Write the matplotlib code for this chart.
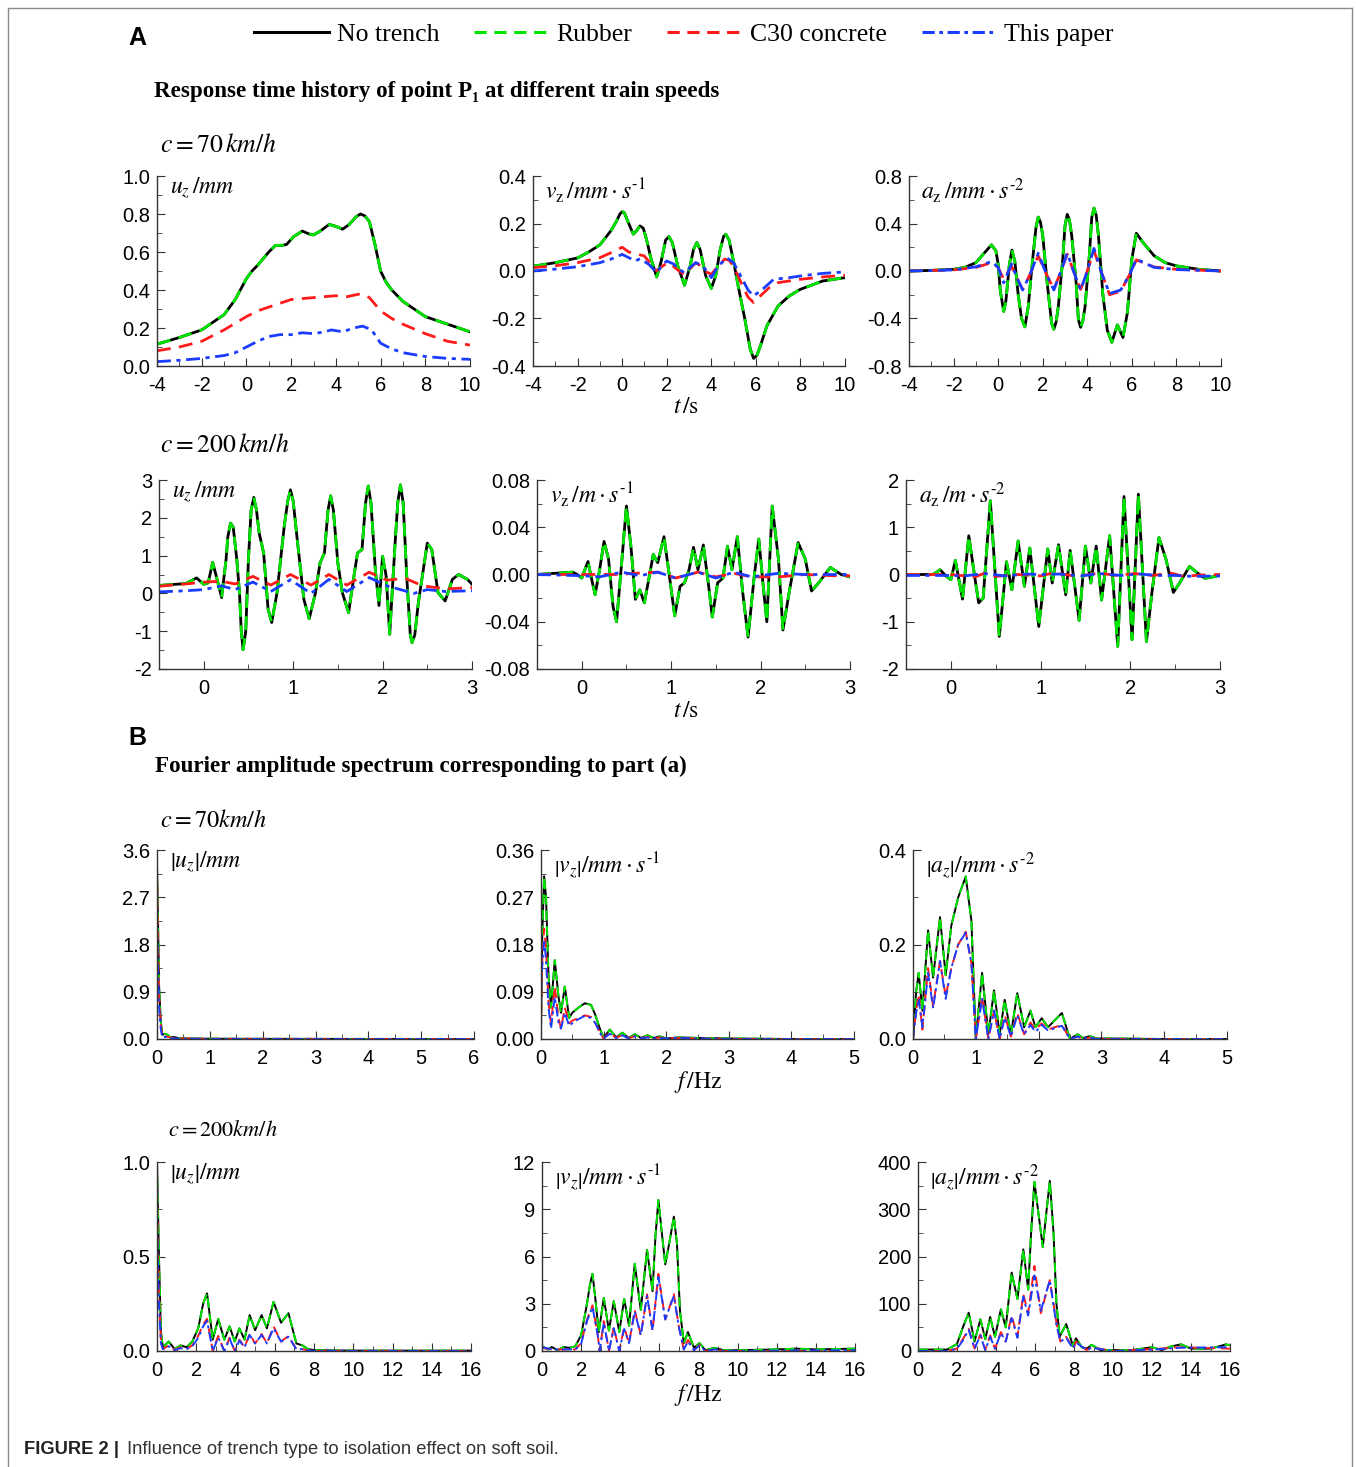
import numpy as np
import matplotlib
matplotlib.use("Agg")
import matplotlib.pyplot as plt
from matplotlib.lines import Line2D
from matplotlib.ticker import MultipleLocator, FormatStrFormatter

plt.rcParams['font.family'] = ['Liberation Sans', 'DejaVu Sans']
plt.rcParams['mathtext.fontset'] = 'stix'
plt.rcParams['axes.unicode_minus'] = False

# ---------------- data ----------------
# A, c = 70 km/h, displacement u_z (mm)
a1_t_nt = [-4, -3, -2, -1.5, -1, -0.5, 0, 0.25, 0.5, 1, 1.3, 1.6, 1.8, 2.1, 2.5, 2.8, 3.0, 3.3, 3.7, 4.0,
           4.3, 4.6, 4.9, 5.1, 5.3, 5.5, 5.75, 6, 6.25, 6.5, 7, 7.5, 8, 9, 10]
a1_nt = [0.115, 0.15, 0.19, 0.23, 0.27, 0.35, 0.46, 0.50, 0.53, 0.60, 0.635, 0.635, 0.64, 0.68, 0.71, 0.695, 0.69,
         0.71, 0.745, 0.735, 0.72, 0.745, 0.785, 0.80, 0.79, 0.76, 0.64, 0.50, 0.44, 0.40, 0.34, 0.30, 0.26, 0.22, 0.18]
a1_t_c30 = [-4, -3, -2, -1, 0, 0.5, 1, 1.5, 2, 2.5, 3, 3.5, 4, 4.5, 5.1, 5.5, 6, 6.5, 7, 8, 9, 10]
a1_c30 = [0.08, 0.10, 0.13, 0.19, 0.26, 0.29, 0.31, 0.33, 0.35, 0.355, 0.36, 0.365, 0.37, 0.365, 0.38, 0.36, 0.29,
          0.25, 0.22, 0.17, 0.13, 0.11]
a1_t_tp = [-4, -3, -2, -1, -0.5, 0, 0.5, 1, 1.5, 2, 2.5, 3, 3.5, 3.8, 4.3, 4.8, 5.2, 5.6, 6, 6.5, 7, 8, 9, 10]
a1_tp = [0.023, 0.03, 0.04, 0.055, 0.07, 0.10, 0.13, 0.155, 0.165, 0.165, 0.175, 0.17, 0.18, 0.19, 0.18, 0.2, 0.21,
         0.19, 0.12, 0.09, 0.07, 0.05, 0.04, 0.035]

# A, c = 70 km/h, velocity v_z (mm/s)
a2_t_nt = [-4, -3, -2, -1.5, -1, -0.5, -0.25, -0.1, 0, 0.1, 0.25, 0.5, 0.65, 0.8, 0.95, 1.1, 1.3, 1.55, 1.75, 1.95,
           2.1, 2.25, 2.5, 2.8, 3.05, 3.2, 3.35, 3.5, 3.75, 4.0, 4.2, 4.4, 4.55, 4.65, 4.8, 5.0, 5.2, 5.5, 5.75, 5.9,
           6.05, 6.2, 6.5, 7, 7.5, 8, 9, 10]
a2_nt = [0.02, 0.035, 0.055, 0.08, 0.11, 0.17, 0.21, 0.24, 0.25, 0.245, 0.21, 0.155, 0.17, 0.19, 0.18, 0.13, 0.05,
         -0.025, 0.04, 0.13, 0.145, 0.12, 0.02, -0.06, 0.02, 0.09, 0.12, 0.09, -0.02, -0.073, -0.02, 0.09, 0.145,
         0.155, 0.13, 0.04, -0.06, -0.2, -0.33, -0.368, -0.355, -0.316, -0.23, -0.147, -0.105, -0.077, -0.042, -0.028]
a2_t_c30 = [-4, -3, -2, -1, -0.5, 0, 0.3, 0.6, 1.0, 1.3, 1.55, 1.8, 2.05, 2.3, 2.55, 2.8, 3.05, 3.3, 3.55, 3.8,
            4.0, 4.3, 4.6, 4.8, 5.0, 5.2, 5.4, 5.65, 5.9, 6.2, 6.6, 7, 8, 9, 10]
a2_c30 = [0.014, 0.022, 0.035, 0.056, 0.077, 0.10, 0.08, 0.073, 0.063, 0.028, 0.0, 0.02, 0.035, 0.02, 0.0, -0.014,
          0.01, 0.035, 0.02, -0.005, -0.014, 0.02, 0.05, 0.045, 0.02, -0.02, -0.063, -0.11, -0.133, -0.105, -0.07,
          -0.049, -0.035, -0.025, -0.018]
a2_t_tp = [-4, -3, -2, -1, -0.5, 0, 0.3, 0.6, 0.8, 1.2, 1.55, 1.8, 2.0, 2.3, 2.55, 2.8, 3.05, 3.3, 3.55, 3.8,
           4.0, 4.3, 4.7, 5.0, 5.2, 5.4, 5.65, 5.9, 6.3, 6.8, 7.5, 8, 9, 10]
a2_tp = [0.0, 0.008, 0.018, 0.035, 0.05, 0.07, 0.056, 0.042, 0.052, 0.028, -0.007, 0.025, 0.042, 0.03, 0.007,
         -0.007, 0.015, 0.035, 0.025, 0.0, -0.028, 0.02, 0.055, 0.035, 0.0, -0.035, -0.08, -0.105, -0.077, -0.035,
         -0.028, -0.021, -0.01, -0.004]

# A, c = 70 km/h, acceleration a_z (mm/s2)
a3_t_nt = [-4, -3, -2, -1.5, -1, -0.6, -0.3, -0.1, 0.0, 0.1, 0.25, 0.35, 0.5, 0.62, 0.75, 0.9, 1.05, 1.2, 1.35,
           1.55, 1.7, 1.8, 1.9, 2.0, 2.2, 2.4, 2.5, 2.6, 2.7, 2.9, 3.0, 3.1, 3.2, 3.3, 3.5, 3.6, 3.7, 3.8, 3.9, 4.1,
           4.2, 4.3, 4.4, 4.5, 4.7, 4.9, 5.1, 5.35, 5.6, 5.8, 6.0, 6.2, 6.5, 7, 7.5, 8, 9, 10]
a3_nt = [0.0, 0.005, 0.014, 0.03, 0.07, 0.156, 0.22, 0.17, 0.057, -0.17, -0.34, -0.25, 0.05, 0.176, 0.08, -0.2,
         -0.4, -0.47, -0.3, 0.1, 0.37, 0.454, 0.41, 0.3, -0.1, -0.44, -0.49, -0.43, -0.3, 0.1, 0.38, 0.477, 0.43,
         0.3, -0.1, -0.41, -0.474, -0.42, -0.3, 0.15, 0.45, 0.53, 0.47, 0.3, -0.2, -0.5, -0.6, -0.454, -0.56, -0.35,
         0.1, 0.318, 0.24, 0.128, 0.07, 0.043, 0.014, 0.0]
a3_t_c30 = [-4, -2, -1, -0.3, 0, 0.25, 0.6, 0.85, 1.1, 1.45, 1.8, 2.15, 2.5, 2.8, 3.1, 3.4, 3.7, 4.0, 4.3, 4.65,
            5.0, 5.5, 5.9, 6.2, 7, 8, 10]
a3_c30 = [0.0, 0.009, 0.03, 0.07, 0.03, -0.07, 0.04, -0.06, -0.155, -0.02, 0.128, -0.02, -0.155, -0.01, 0.142,
          -0.01, -0.155, 0.0, 0.17, -0.02, -0.2, -0.17, -0.03, 0.094, 0.034, 0.014, 0.0]
a3_t_tp = a3_t_c30
a3_tp = [0.0, 0.009, 0.035, 0.08, 0.03, -0.10, 0.06, -0.06, -0.16, -0.02, 0.15, -0.02, -0.16, -0.01, 0.15, -0.01,
         -0.16, 0.0, 0.19, -0.02, -0.19, -0.16, -0.03, 0.10, 0.03, 0.012, 0.0]

# A, c = 200 km/h, u_z (mm)
a4_t_nt = [-0.5, -0.2, -0.08, 0.0, 0.05, 0.1, 0.15, 0.2, 0.25, 0.27, 0.3, 0.33, 0.37, 0.4, 0.42, 0.44, 0.47, 0.5,
           0.53, 0.56, 0.59, 0.62, 0.67, 0.72, 0.76, 0.82, 0.9, 0.94, 0.97, 1.0, 1.05, 1.12, 1.18, 1.25, 1.3, 1.35,
           1.39, 1.42, 1.45, 1.5, 1.55, 1.62, 1.68, 1.72, 1.77, 1.81, 1.84, 1.87, 1.92, 1.96, 2.0, 2.04, 2.08, 2.14,
           2.17, 2.2, 2.23, 2.27, 2.31, 2.33, 2.36, 2.4, 2.5, 2.55, 2.62, 2.7, 2.78, 2.85, 2.95, 3.0]
a4_nt = [0.21, 0.26, 0.41, 0.24, 0.28, 0.82, 0.37, -0.11, 0.9, 1.5, 1.86, 1.75, 0.9, 0.02, -1.0, -1.49, -1.0, 0.9,
         2.2, 2.54, 2.2, 1.6, 1.07, -0.42, -0.77, 0.02, 1.77, 2.45, 2.74, 2.45, 1.33, -0.16, -0.67, 0.02, 0.8, 1.07,
         2.2, 2.58, 2.2, 0.8, 0.02, -0.51, 0.46, 1.07, 1.16, 2.4, 2.84, 2.4, 0.6, -0.32, 0.98, 0.46, -1.08, 1.33,
         2.4, 2.87, 2.4, 0.46, -1.1, -1.3, -1.1, -0.25, 1.33, 1.16, 0.02, -0.2, 0.37, 0.5, 0.37, 0.24]
a4_t_c30 = [-0.5, -0.2, 0.0, 0.2, 0.35, 0.55, 0.75, 0.97, 1.2, 1.4, 1.6, 1.85, 2.05, 2.25, 2.45, 2.7, 3.0]
a4_c30 = [0.19, 0.25, 0.30, 0.32, 0.25, 0.45, 0.22, 0.5, 0.22, 0.5, 0.22, 0.56, 0.35, 0.4, 0.2, 0.12, 0.15]
a4_t_tp = [-0.5, -0.2, 0.0, 0.2, 0.35, 0.55, 0.75, 0.97, 1.2, 1.4, 1.6, 1.85, 2.05, 2.35, 2.5, 2.7, 3.0]
a4_tp = [0.04, 0.07, 0.1, 0.2, 0.1, 0.3, 0.05, 0.36, 0.0, 0.37, 0.05, 0.42, 0.2, 0.0, 0.1, 0.05, 0.07]

# A, c = 200 km/h, v_z (m/s)
a5_t_nt = [-0.5, -0.1, -0.05, 0.0, 0.07, 0.12, 0.15, 0.2, 0.25, 0.3, 0.35, 0.39, 0.45, 0.5, 0.55, 0.6, 0.65, 0.7,
           0.75, 0.8, 0.85, 0.92, 0.98, 1.04, 1.1, 1.15, 1.2, 1.25, 1.3, 1.36, 1.42, 1.46, 1.52, 1.58, 1.63, 1.68,
           1.74, 1.8, 1.86, 1.93, 1.98, 2.03, 2.07, 2.13, 2.2, 2.25, 2.32, 2.42, 2.5, 2.57, 2.65, 2.78, 2.9, 3.0]
a5_nt = [0.0, 0.002, 0.0, -0.003, 0.011, -0.007, -0.017, 0.004, 0.028, 0.013, -0.027, -0.04, 0.013, 0.058, 0.024,
         -0.021, -0.013, -0.024, -0.004, 0.017, 0.01, 0.032, -0.001, -0.035, -0.01, -0.007, 0.004, 0.023, 0.004,
         0.025, -0.01, -0.036, -0.007, -0.003, 0.024, 0.004, 0.032, -0.015, -0.053, -0.001, 0.03, -0.01, -0.04,
         0.058, 0.013, -0.047, -0.015, 0.027, 0.013, -0.014, -0.007, 0.006, 0.0, -0.002]
a5_t_c30 = [-0.5, 0.0, 0.4, 0.6, 0.85, 1.05, 1.3, 1.5, 1.7, 1.9, 2.2, 2.5, 2.8, 3.0]
a5_c30 = [0.0, 0.0, 0.0, 0.001, 0.002, -0.003, 0.002, -0.002, 0.001, -0.002, -0.002, 0.0, -0.001, -0.001]
a5_t_tp = [-0.5, 0.0, 0.2, 0.45, 0.65, 0.85, 1.05, 1.3, 1.5, 1.7, 1.9, 2.2, 2.5, 2.8, 3.0]
a5_tp = [0.0, -0.001, -0.002, 0.002, -0.001, 0.002, -0.003, 0.002, -0.003, 0.002, -0.002, 0.001, 0.0, 0.0, 0.0]

# A, c = 200 km/h, a_z (m/s2)
a6_t_nt = [-0.5, -0.2, -0.12, -0.05, 0.0, 0.05, 0.13, 0.2, 0.27, 0.31, 0.36, 0.44, 0.54, 0.62, 0.68, 0.75, 0.82,
           0.88, 0.98, 1.08, 1.13, 1.2, 1.28, 1.33, 1.43, 1.5, 1.56, 1.62, 1.68, 1.77, 1.86, 1.93, 2.02, 2.09, 2.18,
           2.24, 2.32, 2.4, 2.48, 2.55, 2.66, 2.75, 2.83, 2.95, 3.0]
a6_nt = [0.0, 0.0, 0.1, -0.04, -0.11, 0.3, -0.52, 0.82, -0.1, -0.6, -0.5, 1.56, -1.31, 0.27, -0.32, 0.71, -0.25,
         0.56, -1.1, 0.54, -0.18, 0.63, -0.43, 0.51, -0.97, 0.6, -0.18, 0.6, -0.54, 0.82, -1.52, 1.65, -1.38, 1.7,
         -1.42, -0.4, 0.78, 0.31, -0.38, -0.18, 0.17, 0.03, -0.08, -0.04, 0.0]
a6_t_c30 = [-0.5, 0.0, 0.27, 0.38, 0.5, 0.75, 1.0, 1.15, 1.4, 1.65, 1.85, 2.05, 2.25, 2.45, 2.6, 2.8, 3.0]
a6_c30 = [0.0, 0.0, -0.05, 0.03, -0.04, 0.0, -0.03, 0.04, -0.04, 0.03, -0.02, 0.02, -0.02, 0.03, -0.04, -0.01, 0.0]
a6_t_tp = [-0.5, 0.0, 0.15, 0.38, 0.6, 0.85, 1.0, 1.2, 1.45, 1.65, 1.9, 2.1, 2.3, 2.5, 2.7, 3.0]
a6_tp = [-0.02, -0.02, -0.03, 0.02, -0.03, 0.01, 0.0, 0.01, -0.03, 0.02, -0.02, 0.01, -0.02, -0.02, -0.04, -0.03]

# B, c = 70 km/h, |u_z|
b1_f_nt = [0, 0.02, 0.04, 0.07, 0.1, 0.15, 0.2, 0.25, 0.3, 0.4, 0.5, 1, 2, 3, 4, 5, 6]
b1_nt = [3.3, 2.2, 1.0, 0.35, 0.08, 0.1, 0.08, 0.03, 0.04, 0.02, 0.01, 0.005, 0.003, 0.002, 0.001, 0.001, 0.0]
b1_f_c30 = [0, 0.02, 0.04, 0.07, 0.1, 0.15, 0.2, 0.3, 0.5, 1, 6]
b1_c30 = [3.25, 1.8, 0.8, 0.3, 0.05, 0.06, 0.04, 0.02, 0.01, 0.003, 0.0]
b1_f_tp = b1_f_c30
b1_tp = [2.2, 1.3, 0.6, 0.2, 0.03, 0.04, 0.03, 0.01, 0.005, 0.002, 0.0]

# B, c = 70 km/h, |v_z|
b2_f = [0, 0.02, 0.05, 0.08, 0.12, 0.16, 0.22, 0.28, 0.32, 0.38, 0.45, 0.5, 0.6, 0.7, 0.8, 0.87, 0.94, 1.0, 1.1,
        1.2, 1.3, 1.4, 1.5, 1.6, 1.7, 1.8, 1.9, 2.0, 2.2, 2.5, 3, 4, 5]
b2_nt = [0.02, 0.2, 0.31, 0.27, 0.12, 0.06, 0.15, 0.08, 0.05, 0.10, 0.04, 0.05, 0.06, 0.068, 0.065, 0.045, 0.02,
         0.002, 0.018, 0.003, 0.012, 0.002, 0.009, 0.002, 0.007, 0.002, 0.005, 0.001, 0.003, 0.002, 0.001, 0.0, 0.0]
b2_c30 = [0.02, 0.15, 0.21, 0.17, 0.07, 0.03, 0.10, 0.04, 0.02, 0.06, 0.03, 0.035, 0.04, 0.045, 0.042, 0.03, 0.012,
          0.001, 0.012, 0.002, 0.008, 0.001, 0.006, 0.001, 0.004, 0.001, 0.003, 0.001, 0.002, 0.001, 0.0, 0.0, 0.0]
b2_tp = [0.09, 0.14, 0.19, 0.15, 0.06, 0.02, 0.08, 0.03, 0.02, 0.05, 0.025, 0.03, 0.038, 0.044, 0.04, 0.03, 0.012,
         0.001, 0.01, 0.002, 0.007, 0.001, 0.005, 0.001, 0.003, 0.001, 0.002, 0.001, 0.002, 0.001, 0.0, 0.0, 0.0]

# B, c = 70 km/h, |a_z|
b3_f = [0, 0.05, 0.09, 0.15, 0.24, 0.32, 0.43, 0.52, 0.61, 0.72, 0.84, 0.93, 1.0, 1.1, 1.2, 1.29, 1.38, 1.46, 1.56,
        1.66, 1.77, 1.87, 1.95, 2.05, 2.15, 2.37, 2.5, 2.62, 2.71, 2.81, 2.93, 3.2, 4, 5]
b3_nt = [0.0, 0.10, 0.14, 0.06, 0.23, 0.13, 0.258, 0.135, 0.24, 0.30, 0.344, 0.25, 0.0, 0.14, 0.01, 0.103, 0.01,
         0.083, 0.01, 0.097, 0.025, 0.06, 0.025, 0.044, 0.025, 0.055, 0.0, 0.01, 0.002, 0.006, 0.001, 0.001, 0.0, 0.0]
b3_c30 = [0.0, 0.06, 0.094, 0.02, 0.15, 0.07, 0.165, 0.09, 0.15, 0.2, 0.227, 0.16, 0.0, 0.09, 0.0, 0.06, 0.0, 0.05,
          0.005, 0.055, 0.01, 0.035, 0.02, 0.033, 0.02, 0.03, 0.0, 0.005, 0.001, 0.003, 0.0, 0.0, 0.0, 0.0]
b3_tp = [0.0, 0.055, 0.085, 0.025, 0.14, 0.065, 0.165, 0.085, 0.15, 0.2, 0.225, 0.16, 0.0, 0.085, 0.0, 0.06, 0.0,
         0.045, 0.005, 0.05, 0.01, 0.03, 0.015, 0.03, 0.018, 0.028, 0.0, 0.005, 0.001, 0.003, 0.0, 0.0, 0.0, 0.0]

# B, c = 200 km/h, |u_z|
b4_f_nt = [0, 0.1, 0.2, 0.3, 0.6, 0.9, 1.2, 1.5, 1.8, 2.1, 2.35, 2.55, 2.84, 3.12, 3.43, 3.7, 3.96, 4.2, 4.46, 4.72,
           5.0, 5.33, 5.6, 5.94, 6.32, 6.7, 7.1, 7.4, 7.7, 8.0, 9, 10, 12, 14, 16]
b4_nt = [1.0, 0.5, 0.1, 0.02, 0.05, 0.01, 0.03, 0.02, 0.05, 0.12, 0.25, 0.305, 0.06, 0.17, 0.06, 0.13, 0.05, 0.12,
         0.06, 0.19, 0.11, 0.19, 0.12, 0.26, 0.15, 0.20, 0.04, 0.03, 0.01, 0.005, 0.003, 0.002, 0.002, 0.002, 0.002]
b4_f = [0, 0.05, 0.1, 0.2, 0.3, 0.6, 0.9, 1.2, 1.5, 1.8, 2.1, 2.35, 2.55, 2.84, 3.12, 3.43, 3.7, 3.96, 4.2, 4.46,
        4.72, 5.0, 5.33, 5.6, 5.94, 6.32, 6.7, 7.1, 7.4, 7.7, 8.0, 9, 16]
b4_c30 = [0.85, 0.5, 0.3, 0.05, 0.01, 0.03, 0.005, 0.02, 0.01, 0.03, 0.08, 0.14, 0.17, 0.0, 0.08, 0.0, 0.07, 0.0,
          0.06, 0.02, 0.09, 0.04, 0.09, 0.04, 0.13, 0.05, 0.08, 0.01, 0.01, 0.003, 0.001, 0.001, 0.0]
b4_tp = [0.7, 0.45, 0.25, 0.04, 0.01, 0.025, 0.005, 0.015, 0.01, 0.025, 0.07, 0.13, 0.16, 0.0, 0.07, 0.0, 0.065,
         0.0, 0.055, 0.02, 0.085, 0.04, 0.085, 0.04, 0.12, 0.05, 0.075, 0.01, 0.01, 0.003, 0.001, 0.001, 0.0]

# B, c = 200 km/h, |v_z|
b5_f_nt = [0, 0.3, 0.5, 0.8, 1.1, 1.4, 1.7, 2.0, 2.3, 2.45, 2.58, 2.72, 2.9, 3.16, 3.42, 3.67, 3.95, 4.2, 4.45,
           4.74, 5.05, 5.37, 5.65, 5.8, 5.95, 6.1, 6.3, 6.5, 6.74, 6.9, 7.05, 7.25, 7.46, 7.77, 8.05, 8.35, 8.8, 9.3,
           10, 12, 13, 14, 16]
b5_nt = [0.3, 0.1, 0.25, 0.05, 0.25, 0.2, 0.3, 1.0, 3.0, 4.2, 4.9, 3.4, 1.2, 3.37, 1.3, 3.16, 1.2, 3.3, 1.6, 5.54,
         2.6, 6.42, 3.8, 7.3, 9.58, 7.8, 5.5, 6.8, 8.53, 6.8, 2.6, 0.5, 1.2, 0.2, 0.5, 0.05, 0.2, 0.05, 0.05, 0.1,
         0.15, 0.1, 0.15]
b5_f = [0, 0.5, 1.0, 1.7, 2.0, 2.3, 2.58, 2.85, 2.95, 3.16, 3.42, 3.67, 3.95, 4.2, 4.45, 4.74, 5.05, 5.37, 5.65,
        5.95, 6.3, 6.74, 7.0, 7.25, 7.46, 7.77, 8.05, 8.35, 8.8, 9.3, 16]
b5_c30 = [0.2, 0.1, 0.1, 0.1, 0.5, 2.0, 2.9, 1.0, 0.0, 1.9, 0.0, 1.5, 0.0, 1.5, 0.5, 2.6, 1.0, 3.6, 1.3, 4.9, 2.0,
          3.6, 1.5, 0.1, 0.7, 0.05, 0.4, 0.0, 0.1, 0.0, 0.0]
b5_tp = [0.25, 0.1, 0.1, 0.1, 0.45, 1.9, 2.8, 1.0, 0.0, 1.8, 0.0, 1.45, 0.0, 1.4, 0.5, 2.5, 1.0, 3.5, 1.3, 4.7, 2.0,
         3.5, 1.5, 0.1, 0.6, 0.05, 0.35, 0.0, 0.1, 0.0, 0.05]

# B, c = 200 km/h, |a_z|
b6_f_nt = [0, 1.5, 2.0, 2.3, 2.6, 2.9, 3.2, 3.45, 3.7, 3.95, 4.25, 4.5, 4.8, 5.1, 5.4, 5.65, 5.8, 5.97, 6.15, 6.4,
           6.6, 6.76, 6.95, 7.1, 7.26, 7.6, 7.95, 8.1, 8.4, 8.65, 8.9, 9.35, 10, 11, 12, 12.5, 13, 13.5, 14, 15,
           15.8, 16]
b6_nt = [3, 3, 15, 50, 81, 20, 67, 25, 72, 30, 88, 50, 166, 110, 215, 130, 250, 358, 300, 220, 300, 360, 250, 100,
         30, 57, 10, 27, 8, 5, 13, 2, 2, 2, 8, 2, 10, 14, 5, 5, 14, 12]
b6_f = [0, 1.5, 2.0, 2.3, 2.6, 2.9, 3.2, 3.45, 3.7, 3.95, 4.25, 4.5, 4.8, 5.1, 5.4, 5.65, 5.97, 6.3, 6.76, 7.1, 7.3,
        7.6, 7.95, 8.1, 8.65, 8.9, 10, 12, 13.5, 16]
b6_c30 = [0, 0, 5, 25, 47, 5, 35, 2, 33, 5, 40, 20, 75, 30, 120, 80, 180, 80, 150, 60, 20, 30, 5, 20, 2, 8, 0, 4, 8,
          5]
b6_tp = [0, 0, 5, 22, 45, 5, 33, 2, 30, 5, 38, 20, 70, 28, 115, 75, 160, 85, 150, 55, 20, 28, 5, 18, 2, 7, 0, 3, 7,
         8]

legend_labels = ['No trench', 'Rubber', 'C30 concrete', 'This paper']

# ---------------- figure ----------------
W, H = 1356, 1467
fig = plt.figure(figsize=(W / 100, H / 100), dpi=100)
fig.patch.set_facecolor('white')


def px_axes(x0, x1, ytop, ybot):
    return fig.add_axes([x0 / W, 1 - ybot / H, (x1 - x0) / W, (ybot - ytop) / H])


def ftext(x, y, s, **kw):
    fig.text(x / W, 1 - y / H, s, **kw)


GREEN = '#00e400'
RED = '#ff1a1a'
BLUE = '#1a3cff'
HY = '\u2010'  # short hyphen used in the superscripts


def draw(ax, series, lw):
    (xn, yn), (xr, yr), (xc, yc), (xp, yp) = series
    ax.plot(xn, yn, color='black', lw=lw, solid_joinstyle='round')
    ax.plot(xr, yr, color=GREEN, lw=lw, ls=(0, (5, 3)))
    ax.plot(xc, yc, color=RED, lw=lw, ls=(0, (5, 3)))
    ax.plot(xp, yp, color=BLUE, lw=lw, ls=(0, (5, 2, 1.5, 2)))


def style(ax, xlim, xmaj, ylim, ymaj, yfmt, label):
    ax.set_xlim(*xlim)
    ax.set_ylim(*ylim)
    for s in ['top', 'right']:
        ax.spines[s].set_visible(False)
    for s in ['left', 'bottom']:
        ax.spines[s].set_linewidth(1.0)
        ax.spines[s].set_color('#333333')
    ax.xaxis.set_major_locator(MultipleLocator(xmaj))
    ax.xaxis.set_minor_locator(MultipleLocator(xmaj / 2))
    ax.yaxis.set_major_locator(MultipleLocator(ymaj))
    ax.yaxis.set_minor_locator(MultipleLocator(ymaj / 2))
    ax.xaxis.set_major_formatter(FormatStrFormatter('%g'))
    ax.yaxis.set_major_formatter(FormatStrFormatter(yfmt))
    ax.tick_params(which='both', direction='in', labelsize=14.5, color='#333333')
    ax.tick_params(axis='x', pad=7)
    ax.tick_params(axis='y', pad=5)
    ax.tick_params(which='major', length=6)
    ax.tick_params(which='minor', length=3.5)
    ax.text(0.04, 1.0, label, transform=ax.transAxes, ha='left', va='top', fontsize=17)


panels = [
    # (box px, data, xlim, xmaj, ylim, ymaj, fmt, label, lw)
    ((157, 470, 176, 366), [(a1_t_nt, a1_nt), (a1_t_nt, a1_nt), (a1_t_c30, a1_c30), (a1_t_tp, a1_tp)],
     (-4, 10), 2, (0, 1.0), 0.2, '%.1f', r'$u_z\,/mm$', 2.0),
    ((533, 845, 176, 366), [(a2_t_nt, a2_nt), (a2_t_nt, a2_nt), (a2_t_c30, a2_c30), (a2_t_tp, a2_tp)],
     (-4, 10), 2, (-0.4, 0.4), 0.2, '%.1f', r'$v_{\mathrm{z}}\,/mm\cdot s^{' + HY + '1}$', 2.0),
    ((909, 1221, 176, 366), [(a3_t_nt, a3_nt), (a3_t_nt, a3_nt), (a3_t_c30, a3_c30), (a3_t_tp, a3_tp)],
     (-4, 10), 2, (-0.8, 0.8), 0.4, '%.1f', r'$a_{\mathrm{z}}\,/mm\cdot s^{' + HY + '2}$', 2.0),
    ((159, 472, 480, 669), [(a4_t_nt, a4_nt), (a4_t_nt, a4_nt), (a4_t_c30, a4_c30), (a4_t_tp, a4_tp)],
     (-0.5, 3), 1, (-2, 3), 1, '%d', r'$u_z\,/mm$', 2.0),
    ((537, 850, 480, 669), [(a5_t_nt, a5_nt), (a5_t_nt, a5_nt), (a5_t_c30, a5_c30), (a5_t_tp, a5_tp)],
     (-0.5, 3), 1, (-0.08, 0.08), 0.04, '%.2f', r'$v_{\mathrm{z}}\,/m\cdot s^{' + HY + '1}$', 2.0),
    ((906, 1220, 480, 669), [(a6_t_nt, a6_nt), (a6_t_nt, a6_nt), (a6_t_c30, a6_c30), (a6_t_tp, a6_tp)],
     (-0.5, 3), 1, (-2, 2), 1, '%d', r'$a_{\mathrm{z}}\,/m\cdot s^{' + HY + '2}$', 2.0),
    ((157, 474, 850, 1039), [(b1_f_nt, b1_nt), (b1_f_nt, b1_nt), (b1_f_c30, b1_c30), (b1_f_tp, b1_tp)],
     (0, 6), 1, (0, 3.6), 0.9, '%.1f', r'$\left|u_z\right|/mm$', 1.4),
    ((541, 854, 850, 1039), [(b2_f, b2_nt), (b2_f, b2_nt), (b2_f, b2_c30), (b2_f, b2_tp)],
     (0, 5), 1, (0, 0.36), 0.09, '%.2f', r'$\left|v_z\right|/mm\cdot s^{' + HY + '1}$', 1.4),
    ((913, 1227, 850, 1039), [(b3_f, b3_nt), (b3_f, b3_nt), (b3_f, b3_c30), (b3_f, b3_tp)],
     (0, 5), 1, (0, 0.4), 0.2, '%.1f', r'$\left|a_z\right|/mm\cdot s^{' + HY + '2}$', 1.4),
    ((157, 471, 1162, 1351), [(b4_f_nt, b4_nt), (b4_f_nt, b4_nt), (b4_f, b4_c30), (b4_f, b4_tp)],
     (0, 16), 2, (0, 1.0), 0.5, '%.1f', r'$\left|u_z\right|/mm$', 1.4),
    ((542, 855, 1162, 1351), [(b5_f_nt, b5_nt), (b5_f_nt, b5_nt), (b5_f, b5_c30), (b5_f, b5_tp)],
     (0, 16), 2, (0, 12), 3, '%d', r'$\left|v_z\right|/mm\cdot s^{' + HY + '1}$', 1.4),
    ((918, 1230, 1162, 1351), [(b6_f_nt, b6_nt), (b6_f_nt, b6_nt), (b6_f, b6_c30), (b6_f, b6_tp)],
     (0, 16), 2, (0, 400), 100, '%d', r'$\left|a_z\right|/mm\cdot s^{' + HY + '2}$', 1.4),
]

for box, data, xlim, xmaj, ylim, ymaj, fmt, label, lw in panels:
    ax = px_axes(*box)
    draw(ax, data, lw)
    style(ax, xlim, xmaj, ylim, ymaj, fmt, label)

# legend on top
handles = [Line2D([], [], color='black', lw=2.2),
           Line2D([], [], color=GREEN, lw=2.2, ls=(0, (4, 2.5))),
           Line2D([], [], color=RED, lw=2.2, ls=(0, (4, 2.5))),
           Line2D([], [], color=BLUE, lw=2.2, ls=(0, (4, 1.5, 1.2, 1.5)))]
fig.legend(handles, legend_labels, loc='center', bbox_to_anchor=(684 / W, 1 - 35 / H), ncol=4,
           frameon=False, handlelength=2.9, handletextpad=0.31, columnspacing=1.36,
           prop={'family': 'Liberation Serif', 'size': 18.5})

serif = {'family': 'Liberation Serif'}
ftext(137, 38, 'A', fontsize=18, fontweight='bold', ha='center', va='center')
ftext(154, 92, 'Response time history of point P\u2081 at different train speeds', fontsize=16.6,
      fontweight='bold', va='center', family=['Liberation Serif', 'DejaVu Serif'])
ftext(160, 145, r'$c = 70\,km/h$', fontsize=18.5, va='center')
ftext(686, 407, r'$t\,/\mathrm{s}$', fontsize=17, ha='center', va='center')
ftext(160, 445, r'$c = 200\,km/h$', fontsize=18.5, va='center')
ftext(686, 711, r'$t\,/\mathrm{s}$', fontsize=17, ha='center', va='center')
ftext(137, 738, 'B', fontsize=18, fontweight='bold', ha='center', va='center')
ftext(155, 766, 'Fourier amplitude spectrum corresponding to part (a)', fontsize=16.6, fontweight='bold',
      va='center', **serif)
ftext(160, 821, r'$c = 70km/h$', fontsize=17.5, va='center')
ftext(698, 1082, r'$f\,/\mathrm{Hz}$', fontsize=17, ha='center', va='center')
ftext(168, 1130, r'$c = 200km/h$', fontsize=16, va='center')
ftext(698, 1395, r'$f\,/\mathrm{Hz}$', fontsize=17, ha='center', va='center')

ftext(24, 1450, 'FIGURE 2 |', fontsize=13.2, fontweight='bold', va='center', color='#222222')
ftext(127, 1450, 'Influence of trench type to isolation effect on soft soil.', fontsize=13.2, va='center',
      color='#333333')

# outer frame
frame_kw = dict(color='#8a8a8a', lw=1.0, transform=fig.transFigure)
fig.add_artist(Line2D([8 / W, 1352 / W], [1 - 8 / H, 1 - 8 / H], **frame_kw))
fig.add_artist(Line2D([8 / W, 8 / W], [1 - 8 / H, 0], **frame_kw))
fig.add_artist(Line2D([1352 / W, 1352 / W], [1 - 8 / H, 0], **frame_kw))

fig.savefig('out.png', dpi=100)
